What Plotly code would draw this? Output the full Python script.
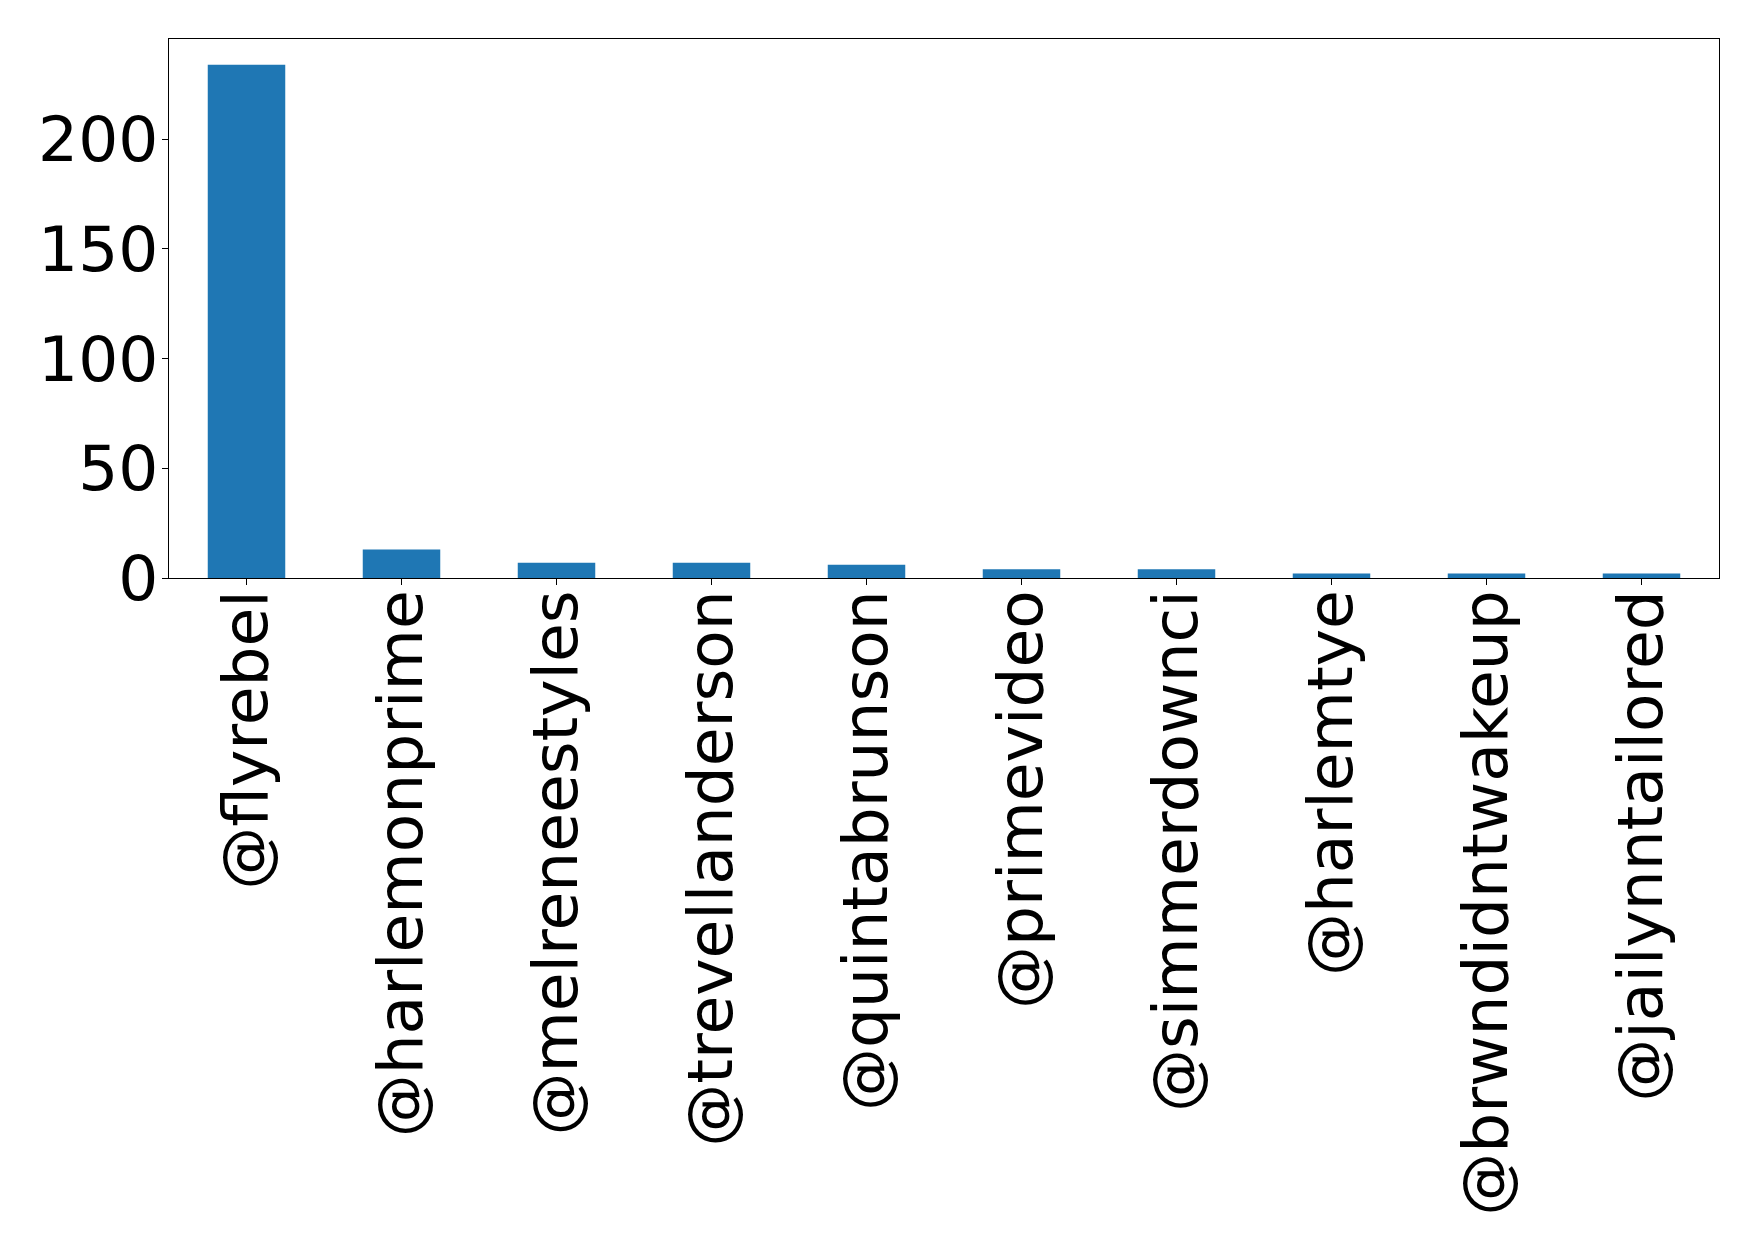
import plotly.graph_objects as go

accounts = ["@flyrebel", "@harlemonprime", "@melreneestyles", "@trevellanderson",
            "@quintabrunson", "@primevideo", "@simmerdownci", "@harlemtye",
            "@brwndidntwakeup", "@jailynntailored"]
counts = [234, 13, 7, 7, 6, 4, 4, 2, 2, 2]
y_ticks = [0, 50, 100, 150, 200]

fig = go.Figure(go.Bar(x=list(range(len(accounts))), y=counts, width=0.5,
                       marker=dict(color="#1f77b4", line=dict(width=0))))

font = dict(family="DejaVu Sans", size=63, color="black")
fig.update_layout(
    width=1758, height=1248,
    margin=dict(l=169, r=39, t=39, b=670),
    plot_bgcolor="white", paper_bgcolor="white",
    showlegend=False,
    xaxis=dict(range=[-0.5, len(accounts) - 0.5], tickmode="array",
               tickvals=list(range(len(accounts))), ticktext=accounts,
               tickangle=-90, tickfont=font, showgrid=False, zeroline=False,
               showline=True, linecolor="black", linewidth=1.2, mirror=True,
               ticks="outside", ticklen=6, tickcolor="black",
               ticklabelstandoff=-20, automargin=False),
    yaxis=dict(range=[0, 245.7], tickmode="array", tickvals=y_ticks,
               tickfont=font, showgrid=False, zeroline=False,
               showline=True, linecolor="black", linewidth=1.2, mirror=True,
               ticks="outside", ticklen=6, tickcolor="black",
               ticklabelstandoff=-9, automargin=False),
)
fig.write_html("out.html", config={"displayModeBar": False},
               post_script="document.body.style.margin='0';document.body.style.overflow='hidden';")
